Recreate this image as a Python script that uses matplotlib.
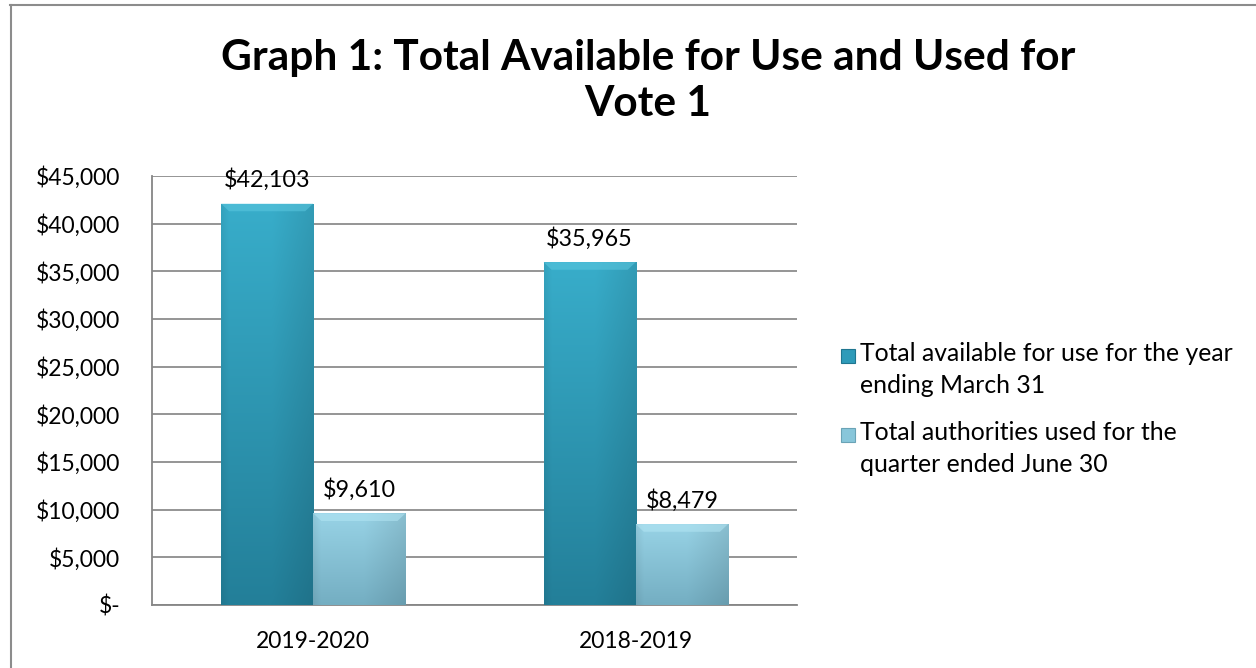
import numpy as np
import matplotlib
matplotlib.use("Agg")
import matplotlib.pyplot as plt
from matplotlib.lines import Line2D
from matplotlib.patches import Rectangle
from matplotlib.colors import to_rgb

categories = ["2019-2020", "2018-2019"]
series_names = ["Total available for use for the year\nending March 31",
                "Total authorities used for the\nquarter ended June 30"]
available = [42103, 35965]
used = [9610, 8479]
yticks = [0, 5000, 10000, 15000, 20000, 25000, 30000, 35000, 40000, 45000]
ytick_labels = ["$-", "$5,000", "$10,000", "$15,000", "$20,000", "$25,000",
                "$30,000", "$35,000", "$40,000", "$45,000"]

plt.rcParams['font.family'] = ['Lato', 'DejaVu Sans']

fig = plt.figure(figsize=(12.56, 6.68), dpi=100)
ax = fig.add_axes([152/1256, 1-605/668, (797-152)/1256, (605-176)/668])

# frame of chart area
fig.add_artist(Line2D([10/1256, 1.0], [1-4.5/668]*2, color='#8c8c8c', lw=1.5, transform=fig.transFigure))
fig.add_artist(Line2D([10.5/1256]*2, [0, 1-4.5/668], color='#8c8c8c', lw=1.5, transform=fig.transFigure))

x = np.arange(len(categories))
w = 0.286
dark = '#2E9BB9'
light = '#88C6DA'

b1 = ax.bar(x - w/2, available, w, color=dark, edgecolor='#1F7690', lw=0.6, zorder=3)
b2 = ax.bar(x + w/2, used, w, color=light, edgecolor='#6AA3B6', lw=0.6, zorder=3)

def shade(bars, top_col, bot_col, hi_col):
    top = np.array(to_rgb(top_col)); bot = np.array(to_rgb(bot_col))
    ny, nx = 100, 60
    t = np.linspace(0, 1, ny)[:, None, None]
    img = top * (1 - t) + bot * t
    img = np.repeat(img, nx, axis=1)
    xs = np.linspace(0, 1, nx)
    hf = 1.0 - 0.10 * np.clip((xs - 0.55) / 0.45, 0, 1) - 0.06 * np.clip((0.08 - xs) / 0.08, 0, 1)
    img = img * hf[None, :, None]
    for b in bars:
        x0, y0 = b.get_x(), b.get_y()
        bw, bh = b.get_width(), b.get_height()
        im = ax.imshow(np.clip(img, 0, 1), extent=(x0, x0 + bw, y0, y0 + bh), origin='upper',
                       aspect='auto', zorder=3.5, interpolation='bilinear')
        im.set_clip_path(b)
        # top bevel
        hh = 800
        ax.fill([x0, x0 + bw, x0 + bw - 0.025, x0 + 0.025],
                [y0 + bh, y0 + bh, y0 + bh - hh, y0 + bh - hh],
                color=hi_col, alpha=0.55, lw=0, zorder=3.6)

shade(b1, '#38ADCA', '#237F99', '#5CC8E0')
shade(b2, '#98D3E6', '#74AEC2', '#B4E6F4')

for bars, vals in ((b1, available), (b2, used)):
    for b, v in zip(bars, vals):
        ax.annotate(f"${v:,}", (b.get_x() + b.get_width()/2, v), xytext=(0, 9),
                    textcoords='offset points', ha='center', va='bottom', fontsize=16.8, color='black')

ax.set_xlim(-0.5, 1.5)
ax.set_ylim(0, 45000)
ax.set_yticks(yticks)
ax.set_yticklabels(ytick_labels, fontsize=16.5)
ax.set_xticks(x)
ax.set_xticklabels(categories, fontsize=16.5)
ax.tick_params(axis='x', length=0, pad=19)
ax.tick_params(axis='y', length=0, pad=23)
ax.yaxis.grid(True, color='#8c8c8c', lw=1.3, zorder=0)
ax.set_axisbelow(True)
for s in ['top', 'right']:
    ax.spines[s].set_visible(False)
for s in ['left', 'bottom']:
    ax.spines[s].set_color('#868686')
    ax.spines[s].set_linewidth(1.3)

fig.text(648/1256, 1-58/668, "Graph 1: Total Available for Use and Used for", ha='center', va='center',
         fontsize=30.5, fontweight='bold')
fig.text(648/1256, 1-104/668, "Vote 1", ha='center', va='center', fontsize=30.5, fontweight='bold')

# legend (marker aligned with first text line)
leg_colors = [dark, light]
leg_edges = ['#1F7690', '#6AA3B6']
leg_y = [356, 435]
for name, col, ec, yy in zip(series_names, leg_colors, leg_edges, leg_y):
    fig.add_artist(Rectangle((841/1256, 1-(yy+7)/668), 14/1256, 14/668, facecolor=col,
                             edgecolor=ec, lw=0.8, transform=fig.transFigure))
    fig.text(860/1256, 1-(yy-14)/668, name, ha='left', va='top', fontsize=17.8, linespacing=1.45)

fig.savefig("out.png", dpi=100)
